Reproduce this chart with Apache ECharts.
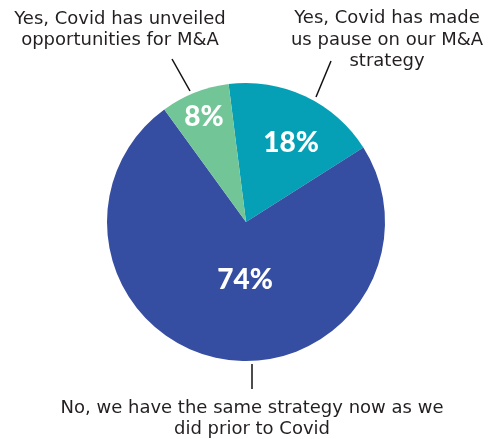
<!DOCTYPE html>
<html>
<head>
<meta charset="utf-8">
<style>
  html, body { margin: 0; padding: 0; background: #ffffff; }
  #chart { width: 491px; height: 439px; }
</style>
<script src="https://cdn.jsdelivr.net/npm/echarts@6/dist/echarts.min.js"></script>
</head>
<body>
<div id="chart"></div>
<script>
// Survey answers, in clockwise order from the top of the pie
const categories = [
  'Yes, Covid has made\nus pause on our M&A\nstrategy',
  'No, we have the same strategy now as we\ndid prior to Covid',
  'Yes, Covid has unveiled\nopportunities for M&A'
];
const values = [18, 74, 8];
const colors = ['#06a0b6', '#364ea1', '#72c596'];

// Where the percentage and the callout text sit, and each callout's leader line
const pctPos = [[291, 143], [245, 280], [204, 117]];
const calloutPos = [[387, 40], [252, 419], [120, 30]];
const leaderLines = [
  [[316, 97], [331, 61]],
  [[252, 364], [252, 389]],
  [[190, 91], [172, 59]]
];

const chart = echarts.init(document.getElementById('chart'), null, { renderer: 'canvas' });

const pieData = categories.map((name, i) => ({
  name: name,
  value: values[i],
  itemStyle: { color: colors[i] }
}));

const base = {
  type: 'pie',
  center: [246, 222],
  radius: [0, 139],
  startAngle: 97.2,
  clockwise: true,
  avoidLabelOverlap: false,
  animation: false,
  data: pieData
};

chart.setOption({
  backgroundColor: '#ffffff',
  series: [
    Object.assign({}, base, {
      itemStyle: { borderColor: '#ffffff', borderWidth: 2 },
      label: {
        show: true,
        position: 'inside',
        formatter: '{c}%',
        color: '#ffffff',
        fontFamily: 'Lato, "Noto Sans", sans-serif',
        fontWeight: 900,
        fontSize: 28
      },
      labelLine: { show: false },
      labelLayout: function (p) {
        const pos = pctPos[p.dataIndex];
        return { x: pos[0], y: pos[1], align: 'center', verticalAlign: 'middle' };
      }
    }),
    Object.assign({}, base, {
      silent: true,
      itemStyle: { color: 'rgba(0,0,0,0)', borderWidth: 0 },
      label: {
        show: true,
        position: 'outside',
        formatter: '{b}',
        color: '#231f20',
        fontFamily: '"DejaVu Sans", sans-serif',
        fontSize: 18,
        lineHeight: 21.5,
        align: 'center'
      },
      labelLine: {
        show: true,
        length: 20,
        length2: 0,
        lineStyle: { color: '#111111', width: 1.5 }
      },
      labelLayout: function (p) {
        const pos = calloutPos[p.dataIndex];
        return {
          x: pos[0], y: pos[1],
          align: 'center', verticalAlign: 'middle',
          labelLinePoints: leaderLines[p.dataIndex]
        };
      }
    })
  ]
});
</script>
</body>
</html>
